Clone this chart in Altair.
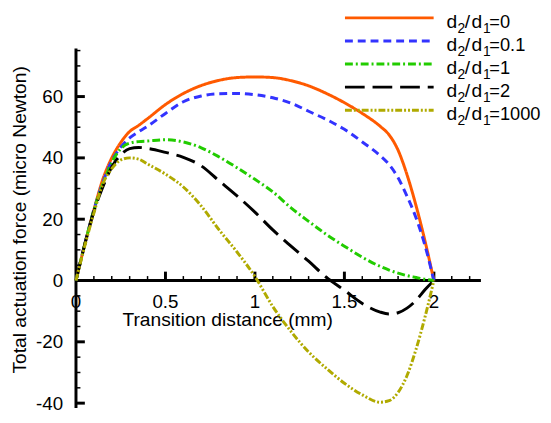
import altair as alt
import pandas as pd

# ---------------- data ----------------
X = [0, 0.05, 0.1, 0.15, 0.2, 0.25, 0.3, 0.35, 0.4, 0.5, 0.6, 0.7, 0.8, 0.9,
     1.0, 1.1, 1.2, 1.3, 1.4, 1.5, 1.6, 1.7, 1.75, 1.8, 1.85, 1.9, 1.95, 2.0]

ratios = ["0", "0.1", "1", "2", "1000"]

y_r0 = [0, 12, 23, 33, 40, 45, 48.6, 50.6, 52.8, 57.4, 61, 63.6, 65.3, 66.2,
        66.4, 66.2, 65.2, 63.5, 61, 58, 54.5, 50.3, 47.5, 42.5, 34.5, 24.5, 13, 0]
y_r01 = [0, 12, 23, 32, 39, 43.5, 46.5, 48.5, 50.3, 54.5, 58.3, 60.2, 60.9, 61,
         60.6, 59.6, 57.9, 55.2, 52.5, 49.3, 45.2, 40.7, 37.8, 33.5, 27.5, 20.5, 11.5, 0]
y_r1 = [0, 12, 23, 31.5, 38.5, 43, 44.8, 45.3, 45.5, 45.9, 45.2, 43.3, 40.3, 36.8,
        33, 28.9, 23.8, 19.3, 15, 11.2, 7.6, 4.6, 3.4, 2.4, 1.6, 1.0, 0.4, 0]
y_r2 = [0, 12, 22.5, 30.5, 37, 41, 43, 43.4, 43.1, 41.8, 40.2, 37.4, 32.5, 27.6,
        22.3, 16.5, 11.3, 6.3, 1.0, -3.2, -7.5, -10.3, -10.9, -10.5, -9, -6.5, -3, 0]
y_r1000 = [0, 11.5, 22, 31.5, 36.5, 39.3, 40, 39.6, 38, 34.7, 30.5, 24.3, 16.5, 9.3,
           1.3, -8.5, -16.5, -23.3, -28.7, -33.5, -37.3, -39.7, -39.2, -36.5, -31, -22.5, -12, 0]
all_y = [y_r0, y_r01, y_r1, y_r2, y_r1000]

x_major = [0.5, 1, 1.5, 2]
x_minor = [0.1, 0.2, 0.3, 0.4, 0.6, 0.7, 0.8, 0.9, 1.1, 1.2, 1.3, 1.4,
           1.6, 1.7, 1.8, 1.9, 2.1, 2.2]
x_label_vals = [0, 0.5, 1, 1.5, 2]
x_label_txt = ["0", "0.5", "1", "1.5", "2"]

y_major = [-40, -20, 20, 40, 60]
y_minor = [-35, -30, -25, -15, -10, -5, 5, 10, 15, 25, 30, 35, 45, 50, 55, 65, 70, 75]
y_label_vals = [-40, -20, 0, 20, 40, 60]
y_label_txt = ["-40", "-20", "0", "20", "40", "60"]

x_title = "Transition distance (mm)"
y_title = "Total actuation force (micro Newton)"

# ---------------- style ----------------
colors = ["#FF5A00", "#3333FF", "#22CC00", "#000000", "#B0AA00"]
dashes = [[1, 0], [8, 5], [8, 3, 2, 3], [20, 8], [7, 2, 2, 2, 2, 2]]
FONT = "Liberation Sans"
FS = 19

W, H = 411, 365
XMAX = 2.263
YMIN, YMAX = -41.6, 75.7

xs = alt.Scale(domain=[0, XMAX], nice=False, zero=False)
ys = alt.Scale(domain=[YMIN, YMAX], nice=False, zero=False)

layers = []

# axis lines
layers.append(
    alt.Chart(pd.DataFrame({"v": [0]})).mark_rule(color="black", strokeWidth=3).encode(
        x=alt.value(0), x2=alt.value(W), y=alt.Y("v:Q", scale=ys, axis=None))
)
layers.append(
    alt.Chart(pd.DataFrame({"v": [0]})).mark_rule(color="black", strokeWidth=3).encode(
        y=alt.value(0), y2=alt.value(H), x=alt.X("v:Q", scale=xs, axis=None))
)

# x ticks
for vals, size, th in [(x_major, 9, 3), (x_minor, 4.5, 1.5)]:
    df = pd.DataFrame({"x": vals, "y": [0] * len(vals)})
    layers.append(
        alt.Chart(df).mark_tick(orient="vertical", size=size, thickness=th,
                                yOffset=-size / 2, color="black", opacity=1).encode(
            x=alt.X("x:Q", scale=xs, axis=None), y=alt.Y("y:Q", scale=ys, axis=None))
    )
# y ticks
for vals, size, th in [(y_major, 9, 3), (y_minor, 4.5, 1.5)]:
    df = pd.DataFrame({"y": vals, "x": [0] * len(vals)})
    layers.append(
        alt.Chart(df).mark_tick(orient="horizontal", size=size, thickness=th,
                                xOffset=size / 2, color="black", opacity=1).encode(
            x=alt.X("x:Q", scale=xs, axis=None), y=alt.Y("y:Q", scale=ys, axis=None))
    )

# tick labels
layers.append(
    alt.Chart(pd.DataFrame({"x": x_label_vals, "y": [0] * 5, "t": x_label_txt})).mark_text(
        font=FONT, fontSize=FS, dy=28, baseline="alphabetic", align="center", color="black").encode(
        x=alt.X("x:Q", scale=xs, axis=None), y=alt.Y("y:Q", scale=ys, axis=None), text="t:N")
)
layers.append(
    alt.Chart(pd.DataFrame({"y": y_label_vals, "x": [0] * 6, "t": y_label_txt})).mark_text(
        font=FONT, fontSize=FS, dx=-13, dy=6.5, baseline="alphabetic", align="right", color="black").encode(
        x=alt.X("x:Q", scale=xs, axis=None), y=alt.Y("y:Q", scale=ys, axis=None), text="t:N")
)

# axis titles
layers.append(
    alt.Chart(pd.DataFrame({"t": [x_title]})).mark_text(
        font=FONT, fontSize=FS + 0.5, baseline="alphabetic", align="center", color="black").encode(
        x=alt.value(154), y=alt.value(282), text="t:N")
)
layers.append(
    alt.Chart(pd.DataFrame({"t": [y_title]})).mark_text(
        font=FONT, fontSize=FS + 0.5, baseline="middle", align="center", angle=270, color="black").encode(
        x=alt.value(-57), y=alt.value(174), text="t:N")
)

# data lines
for ys_vals, c, d in zip(all_y, colors, dashes):
    df = pd.DataFrame({"x": X, "y": ys_vals})
    layers.append(
        alt.Chart(df).mark_line(color=c, strokeDash=d, strokeWidth=3, interpolate="monotone").encode(
            x=alt.X("x:Q", scale=xs, axis=None), y=alt.Y("y:Q", scale=ys, axis=None))
    )

# legend
leg = pd.DataFrame({"r": ratios, "eq": ["=" + r for r in ratios]})
leg_y = alt.Y("r:N", scale=alt.Scale(type="point", domain=ratios, range=[-31, 62.7], padding=0), axis=None)
layers.append(
    alt.Chart(leg).mark_rule(strokeWidth=3).encode(
        x=alt.value(273), x2=alt.value(363), y=leg_y,
        color=alt.Color("r:N", scale=alt.Scale(domain=ratios, range=colors), legend=None),
        strokeDash=alt.StrokeDash("r:N", scale=alt.Scale(domain=ratios, range=dashes), legend=None))
)
LFS = 19.5
SFS = 14
pieces = [("d", 376, LFS, 10), ("2", 387.3, SFS, 15), ("/", 394.5, LFS, 10),
          ("d", 401.5, LFS, 10), ("1", 413, SFS, 15)]
for txt, px, fs, dy in pieces:
    layers.append(
        alt.Chart(leg).mark_text(font=FONT, fontSize=fs, align="left", baseline="alphabetic",
                                 dy=dy, color="black", text=txt).encode(
            x=alt.value(px), y=leg_y)
    )
layers.append(
    alt.Chart(leg).mark_text(font=FONT, fontSize=18.5, align="left", baseline="alphabetic",
                             dy=10, color="black").encode(
        x=alt.value(419.5), y=leg_y, text="eq:N")
)

chart = alt.layer(*layers).resolve_scale(y="independent").properties(
    width=W, height=H,
    padding={"left": 69, "top": 38, "right": 63, "bottom": 3},
    autosize=alt.AutoSizeParams(type="none"),
).configure_view(stroke=None)

chart.save("out.html", embed_options={"renderer": "svg", "actions": False})
